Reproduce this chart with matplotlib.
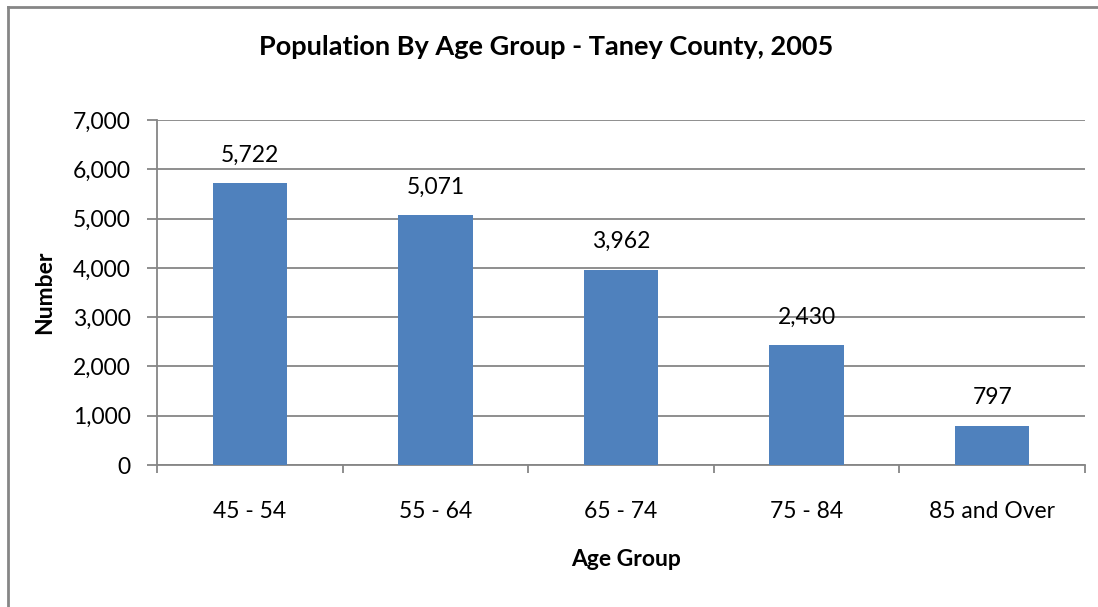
import matplotlib.pyplot as plt
from matplotlib.lines import Line2D
from matplotlib.ticker import FuncFormatter

# Data
age_groups = ['45 - 54', '55 - 64', '65 - 74', '75 - 84', '85 and Over']
population = [5722, 5071, 3962, 2430, 797]
y_ticks = [0, 1000, 2000, 3000, 4000, 5000, 6000, 7000]

plt.rcParams['font.family'] = ['Lato', 'DejaVu Sans']

W, H = 1098, 607
fig = plt.figure(figsize=(W / 100, H / 100), dpi=100)
ax = fig.add_axes([157 / W, 1 - 465 / H, (1085 - 157) / W, (465 - 120) / H])

grey = '#868686'
x = list(range(len(age_groups)))
bars = ax.bar(x, population, width=0.4, color='#4f81bd', zorder=3)
for b, v in zip(bars, population):
    ax.annotate(f'{v:,}', (b.get_x() + b.get_width() / 2, v),
                xytext=(0, 15.5), textcoords='offset points',
                ha='center', va='baseline', fontsize=16.5)

ax.set_xlim(-0.5, len(age_groups) - 0.5)
ax.set_ylim(0, 7000)
ax.set_yticks(y_ticks)
ax.yaxis.set_major_formatter(FuncFormatter(lambda v, p: f'{int(v):,}'))
ax.set_xticks(x)
ax.set_xticklabels(age_groups)
ax.set_xticks([i - 0.5 for i in range(len(age_groups) + 1)], minor=True)
ax.tick_params(axis='x', which='major', length=0, labelsize=16.5, pad=26)
ax.tick_params(axis='x', which='minor', length=6, color=grey, width=1.3)
ax.tick_params(axis='y', length=7, color=grey, width=1.3, labelsize=16.5, pad=12)
ax.grid(axis='y', color=grey, linewidth=1.3, zorder=0)

for s in ['top', 'right']:
    ax.spines[s].set_visible(False)
for s in ['left', 'bottom']:
    ax.spines[s].set_color(grey)
    ax.spines[s].set_linewidth(1.3)

fig.text(546 / W, 1 - 47 / H, 'Population By Age Group - Taney County, 2005',
         ha='center', va='center', fontsize=19.5, fontweight='bold')
fig.text(45 / W, 1 - 292 / H, 'Number', rotation=90, ha='center', va='center',
         fontsize=16.5, fontweight='bold')
fig.text(626 / W, 1 - 560 / H, 'Age Group', ha='center', va='center',
         fontsize=16.5, fontweight='bold')

# Outer chart border: only the left and top edges are inside the image
fig.add_artist(Line2D([8 / W, 8 / W], [0, 1 - 7 / H], transform=fig.transFigure,
                      color=grey, linewidth=2))
fig.add_artist(Line2D([8 / W, 1], [1 - 7 / H, 1 - 7 / H], transform=fig.transFigure,
                      color=grey, linewidth=2))

fig.savefig('out.png', dpi=100)
